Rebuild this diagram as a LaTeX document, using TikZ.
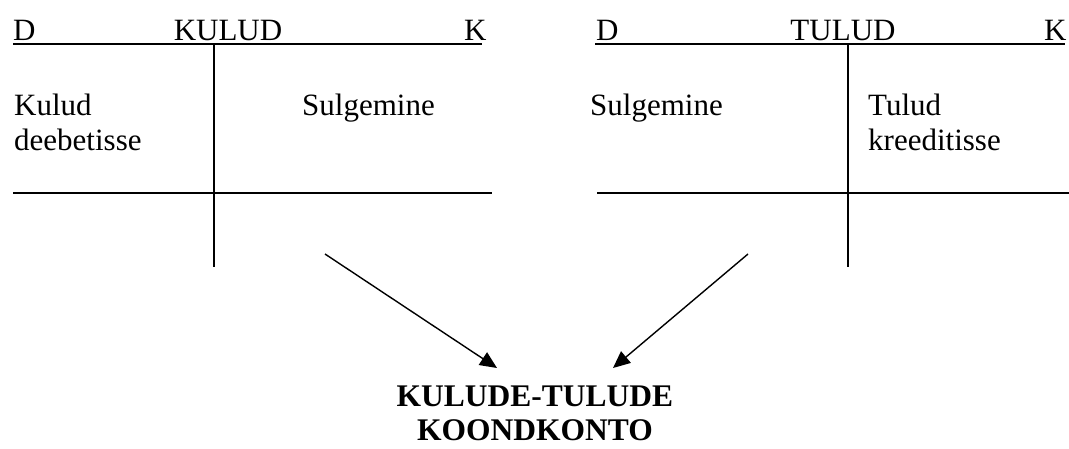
\documentclass[tikz,border=0pt]{standalone}
\usepackage{fontspec}
\setmainfont{Liberation Serif}
\usetikzlibrary{arrows.meta}
\begin{document}
\begin{tikzpicture}[x=1pt,y=-1pt,
  txt/.style={inner sep=0pt,anchor=base west,font=\fontsize{31}{35}\selectfont},
  ctxt/.style={inner sep=0pt,anchor=base,font=\fontsize{31}{35}\selectfont},
  ttl/.style={inner sep=0pt,anchor=base,font=\fontsize{31.5}{35}\selectfont\bfseries},
  rule/.style={line width=2.2pt},
  flow/.style={line width=1.4pt,-{Triangle[length=17pt,width=15pt]}}]
\useasboundingbox (0,0) rectangle (1069,448);

% expense account (KULUD)
\node[txt] (kD) at (13,40) {D};
\node[ctxt] (kT) at (228,40) {KULUD};
\node[txt] (kK) at (464,40) {K};
\draw[rule] (13,44) -- (482,44);
\draw[rule] (214,44) -- (214,267);
\draw[rule] (13,193) -- (492,193);
\node[txt] (kL1) at (14,115) {Kulud};
\node[txt] (kL2) at (14,150) {deebetisse};
\node[txt] (kR) at (302,115) {Sulgemine};

% revenue account (TULUD)
\node[txt] (tD) at (596,40) {D};
\node[ctxt] (tT) at (843,40) {TULUD};
\node[txt] (tK) at (1044,40) {K};
\draw[rule] (595,44) -- (1065,44);
\draw[rule] (848,44) -- (848,267);
\draw[rule] (597,193) -- (1069,193);
\node[txt] (tL) at (590,115) {Sulgemine};
\node[txt] (tR1) at (868,115) {Tulud};
\node[txt] (tR2) at (868,150) {kreeditisse};

% closing account
\node[ttl] (c1) at (535,406) {KULUDE-TULUDE};
\node[ttl] (c2) at (535,440) {KOONDKONTO};

\coordinate (a1s) at (325,254);
\coordinate (a1e) at (497,368);
\coordinate (a2s) at (748,254);
\coordinate (a2e) at (613,368);
\draw[flow] (a1s) -- (a1e);
\draw[flow] (a2s) -- (a2e);
\end{tikzpicture}
\end{document}
